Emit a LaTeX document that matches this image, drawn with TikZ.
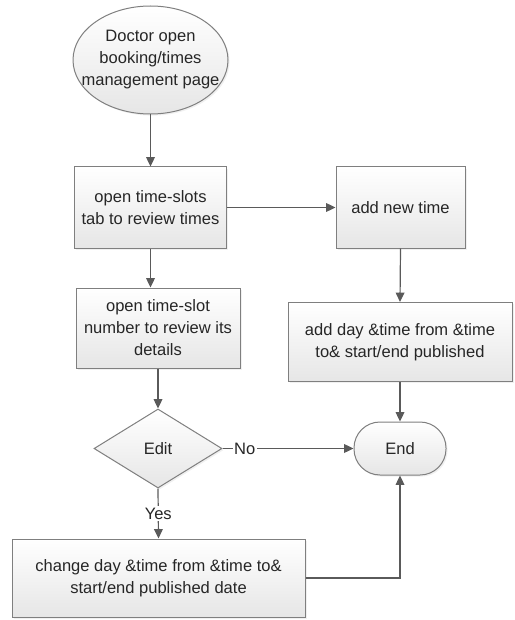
\documentclass[tikz,border=0pt]{standalone}
\usepackage{fontspec}
\setmainfont{Liberation Sans}
\usetikzlibrary{shapes.geometric,arrows.meta,shadows}

\definecolor{edgegray}{HTML}{7F7F7F}
\definecolor{linegray}{HTML}{5A5A5A}
\definecolor{inkgray}{HTML}{262626}
\definecolor{fillbot}{HTML}{E6E6E6}

\begin{document}
\begin{tikzpicture}[x=0.75pt,y=-0.75pt,
  every node/.style={font=\fontsize{12.4}{16.5}\selectfont, text=inkgray},
  shapefill/.style={draw=edgegray, line width=0.75pt, top color=white, bottom color=fillbot,
    drop shadow={opacity=0.12, shadow xshift=1.2pt, shadow yshift=-1.2pt}},
  procbox/.style={shapefill, rectangle, align=center, inner sep=0pt},
  flow/.style={draw=linegray, line width=0.9pt, -{Triangle[length=7pt,width=6.5pt]}},
  plain/.style={draw=linegray, line width=0.9pt},
  tag/.style={fill=white, inner sep=1pt}
]
\useasboundingbox (0,0) rectangle (514,620);

% start oval with its caption set on top
\node[shapefill, ellipse, minimum width=155*0.75pt, minimum height=108*0.75pt, inner sep=0pt] (start) at (150.5,60) {};
\node[align=center] (starttext) at (start) {Doctor open\\booking/times\\management page};

% process boxes
\node[procbox, minimum width=152*0.75pt, minimum height=81*0.75pt] (tabs) at (150.5,207.5) {open time-slots\\tab to review times};
\node[procbox, minimum width=129*0.75pt, minimum height=81*0.75pt] (addnew) at (400.5,207.5) {add new time};
\node[procbox, minimum width=164*0.75pt, minimum height=80*0.75pt] (slot) at (158,328) {open time-slot\\number to review its\\details};
\node[procbox, minimum width=224*0.75pt, minimum height=79*0.75pt] (addday) at (400,342) {add day \&time from \&time\\to\& start/end published};

% decision and terminator
\node[shapefill, diamond, minimum width=128*0.75pt, minimum height=79*0.75pt, inner sep=0pt] (edit) at (158,448.5) {Edit};
\node[shapefill, rectangle, rounded corners=26*0.75pt, minimum width=92*0.75pt, minimum height=53*0.75pt, inner sep=0pt] (end) at (400,448.5) {End};

\node[procbox, minimum width=293*0.75pt, minimum height=78*0.75pt] (change) at (158.5,578) {change day \&time from \&time to\&\\start/end published date};

% connectors
\draw[flow] (start.south) -- (tabs.north);
\draw[flow] (tabs.east) -- (addnew.west);
\draw[flow] (tabs.south) -- (tabs.south |- slot.north);
\draw[flow] (addnew.south) -- (addday.north);
\draw[flow] (slot.south) -- (edit.north);
\draw[flow] (addday.south) -- (end.north);
\draw[flow] (edit.east) -- node[tag, pos=0.17] (nolabel) {No} (end.west);
\draw[flow] (edit.south) -- node[tag, pos=0.5] (yeslabel) {Yes} (change.north);
\draw[flow] (change.east) -| (end.south);
\end{tikzpicture}
\end{document}
